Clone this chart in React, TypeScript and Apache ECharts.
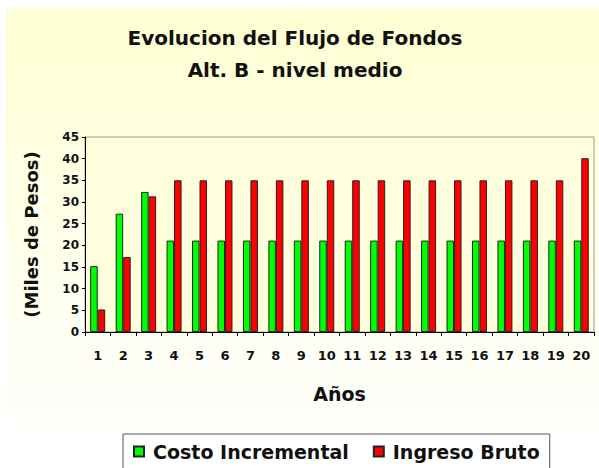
import React, { useEffect, useRef } from "react";
import * as echarts from "echarts";

const years = ["1","2","3","4","5","6","7","8","9","10","11","12","13","14","15","16","17","18","19","20"];
const costoIncremental = [15.2, 27.3, 32.3, 21.1, 21.1, 21.1, 21.1, 21.1, 21.1, 21.1, 21.1, 21.1, 21.1, 21.1, 21.1, 21.1, 21.1, 21.1, 21.1, 21.1];
const ingresoBruto = [5.2, 17.3, 31.3, 35, 35, 35, 35, 35, 35, 35, 35, 35, 35, 35, 35, 35, 35, 35, 35, 40.1];
const titleLines = ["Evolucion del Flujo de Fondos", "Alt. B - nivel medio"];

const FONT = "'DejaVu Sans', Verdana, sans-serif";

export default function App() {
  const ref = useRef<HTMLDivElement>(null);
  useEffect(() => {
    document.body.style.margin = "0";
    const chart = echarts.init(ref.current!, null, { renderer: "svg" });
    chart.setOption({
      animation: false,
      backgroundColor: "#ffffff",
      graphic: [
        {
          type: "rect",
          z: -10,
          silent: true,
          shape: { x: 6, y: 9, width: 593, height: 459 },
          style: {
            fill: new echarts.graphic.LinearGradient(0, 0, 0, 1, [
              { offset: 0, color: "#FFFFD2" },
              { offset: 0.7, color: "#FFFFF4" },
              { offset: 1, color: "#FFFFFF" },
            ]),
          },
        },
        {
          type: "text",
          x: 295,
          y: 38,
          style: { text: titleLines[0], font: `bold 20px ${FONT}`, fill: "#111", textAlign: "center", textVerticalAlign: "middle" },
        },
        {
          type: "text",
          x: 295,
          y: 70,
          style: { text: titleLines[1], font: `bold 20px ${FONT}`, fill: "#111", textAlign: "center", textVerticalAlign: "middle" },
        },
      ],
      grid: {
        left: 85,
        right: 5,
        top: 137,
        bottom: 136,
        show: true,
        backgroundColor: "#FFFFDE",
        borderColor: "#999",
        borderWidth: 1,
      },
      legend: {
        left: 123,
        top: 434,
        padding: [8, 10, 12, 10],
        itemGap: 24,
        itemWidth: 10,
        itemHeight: 10,
        icon: "rect",
        borderColor: "#555",
        borderWidth: 1,
        backgroundColor: "#ffffff",
        textStyle: { fontFamily: FONT, fontWeight: "bold", fontSize: 19, color: "#111", padding: [0, 0, 0, 4] },
        data: ["Costo Incremental", "Ingreso Bruto"],
      },
      xAxis: {
        type: "category",
        data: years,
        name: "Años",
        nameLocation: "middle",
        nameGap: 52,
        nameTextStyle: { fontFamily: FONT, fontWeight: "bold", fontSize: 19, color: "#111" },
        axisLine: { show: true, lineStyle: { color: "#000", width: 1 } },
        axisTick: { show: true, length: 4, lineStyle: { color: "#000" } },
        axisLabel: { margin: 17, fontFamily: FONT, fontWeight: "bold", fontSize: 13, color: "#111" },
      },
      yAxis: {
        type: "value",
        min: 0,
        max: 45,
        interval: 5,
        name: "(Miles de Pesos)",
        nameLocation: "middle",
        nameGap: 45,
        nameTextStyle: { fontFamily: FONT, fontWeight: "bold", fontSize: 18, color: "#111" },
        axisLine: { show: true, lineStyle: { color: "#000", width: 1 } },
        axisTick: { show: true, length: 3, lineStyle: { color: "#000" } },
        splitLine: { show: false },
        axisLabel: { margin: 6, fontFamily: FONT, fontWeight: "bold", fontSize: 12, color: "#111" },
      },
      series: [
        {
          name: "Costo Incremental",
          type: "bar",
          data: costoIncremental,
          barWidth: 7.5,
          barGap: "0%",
          itemStyle: { color: "#00FF00", borderColor: "#222", borderWidth: 1 },
        },
        {
          name: "Ingreso Bruto",
          type: "bar",
          data: ingresoBruto,
          barWidth: 7.5,
          barGap: "0%",
          itemStyle: { color: "#FF0000", borderColor: "#222", borderWidth: 1 },
        },
      ],
    });
    return () => chart.dispose();
  }, []);
  return <div ref={ref} style={{ width: 599, height: 468 }} />;
}
